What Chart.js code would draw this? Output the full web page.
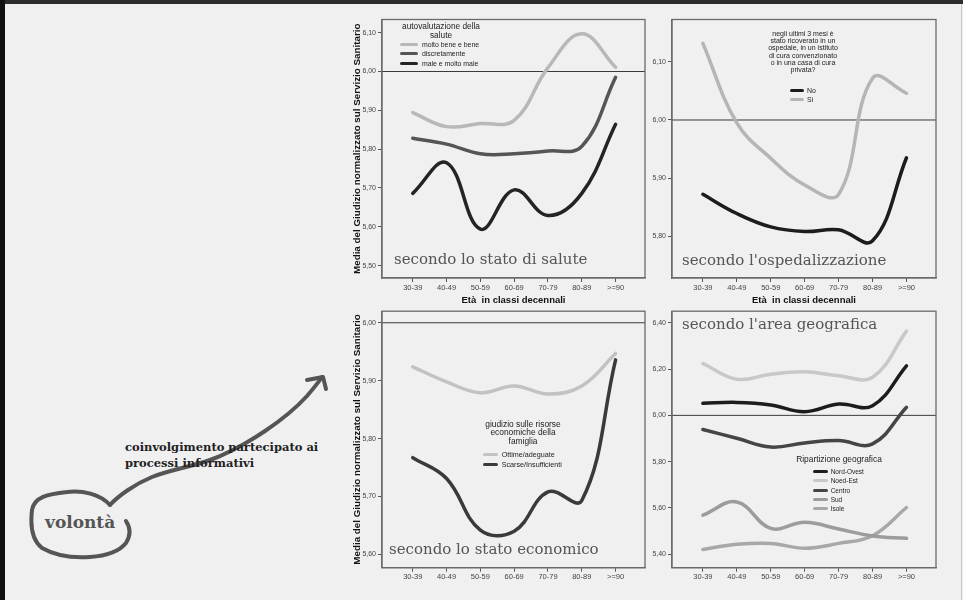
<!DOCTYPE html>
<html>
<head>
<meta charset="utf-8">
<script src="https://cdn.jsdelivr.net/npm/chart.js@4.4.1/dist/chart.umd.min.js"></script>
<style>
  html, body { margin: 0; padding: 0; }
  body { width: 963px; height: 600px; background: #f0f0f0; position: relative; overflow: hidden;
         font-family: "Liberation Sans", Arial, sans-serif; }
  canvas, .abs { position: absolute; }
  .tag { position: absolute; font-family: "DejaVu Serif", serif; font-size: 15px; line-height: 18px;
         color: #555; white-space: nowrap; }
  .legend { position: absolute; color: #222; }
  .legend .ttl { text-align: center; white-space: nowrap; }
  .legend .row { display: flex; align-items: center; white-space: nowrap; }
  .legend .swatch { display: inline-block; height: 3px; border-radius: 2px; }
  .note { position: absolute; font-family: "DejaVu Serif", serif; font-weight: bold; white-space: nowrap; }
</style>
</head>
<body>
<div class="abs" style="left:0;top:0;width:963px;height:4px;background:#2c2c2c"></div>
<div class="abs" style="left:0;top:0;width:5px;height:600px;background:#111"></div>
<div class="abs" style="left:961px;top:4px;width:1px;height:596px;background:#c8c8c8"></div>

<svg class="abs" style="left:0;top:0" width="340" height="600">
  <path d="M110,505 C100,494 82,490 67,492 C48,494 34,497 32,510 C30,527 33,541 42,548 C56,556 75,558 90,557 C105,556 118,553 126,543 C131,535 130,527 126,521"
        fill="none" stroke="#555" stroke-width="4" stroke-linecap="round"/>
  <path d="M110,505 C118,496 135,484 152,477 C170,470 190,467 210,460 C232,452 250,441 265,431 C280,421 296,408 307,396 C313,389 318,383 322,377"
        fill="none" stroke="#555" stroke-width="4" stroke-linecap="round"/>
  <path d="M307,380 L323,377 L326,389" fill="none" stroke="#555" stroke-width="4" stroke-linecap="round" stroke-linejoin="round"/>
</svg>
<div class="note" style="left:125px;top:439px;font-size:11.5px;line-height:16px;color:#222">coinvolgimento partecipato ai<br>processi informativi</div>
<div class="note" style="left:45px;top:512px;font-size:17px;line-height:20px;color:#555">volontà</div>

<canvas id="c1" width="320" height="300" style="left:330px;top:10px"></canvas>
<canvas id="c2" width="310" height="300" style="left:640px;top:10px"></canvas>
<canvas id="c3" width="320" height="295" style="left:330px;top:305px"></canvas>
<canvas id="c4" width="310" height="295" style="left:640px;top:305px"></canvas>

<div class="tag" style="left:394px;top:250px">secondo lo stato di salute</div>
<div class="tag" style="left:682px;top:251px">secondo l'ospedalizzazione</div>
<div class="tag" style="left:389px;top:540px">secondo lo stato economico</div>
<div class="tag" style="left:682px;top:315px">secondo l'area geografica</div>

<script>
// categorie (classi di età)
const ageClasses = ["30-39", "40-49", "50-59", "60-69", "70-79", "80-89", ">=90"];

// autovalutazione della salute
const saluteBuona = [5.894, 5.858, 5.866, 5.874, 6.010, 6.097, 6.011];
const saluteDiscreta = [5.828, 5.813, 5.788, 5.788, 5.795, 5.807, 5.985];
const saluteCattiva = [5.686, 5.765, 5.594, 5.695, 5.629, 5.686, 5.864];

// ricovero negli ultimi 3 mesi
const ricoveroNo = [5.872, 5.839, 5.816, 5.808, 5.811, 5.792, 5.935];
const ricoveroSi = [6.132, 5.995, 5.934, 5.888, 5.872, 6.072, 6.046];

// risorse economiche della famiglia
const risorseBuone = [5.924, 5.898, 5.879, 5.891, 5.877, 5.891, 5.947];
const risorseScarse = [5.767, 5.731, 5.642, 5.640, 5.708, 5.693, 5.936];

// ripartizione geografica
const nordOvest = [6.052, 6.056, 6.045, 6.016, 6.049, 6.042, 6.214];
const nordEst = [6.224, 6.156, 6.178, 6.188, 6.171, 6.165, 6.364];
const centro = [5.939, 5.901, 5.863, 5.881, 5.891, 5.877, 6.035];
const sud = [5.569, 5.626, 5.512, 5.538, 5.509, 5.479, 5.469];
const isole = [5.421, 5.443, 5.447, 5.426, 5.447, 5.480, 5.602];

// tick dell'asse y
const ticksSalute = [5.5, 5.6, 5.7, 5.8, 5.9, 6.0, 6.1];
const ticksRicovero = [5.8, 5.9, 6.0, 6.1];
const ticksRisorse = [5.6, 5.7, 5.8, 5.9, 6.0];
const ticksArea = [5.4, 5.6, 5.8, 6.0, 6.2, 6.4];

const REF = 6.0;
const X_MIN = -0.91, X_MAX = 6.87;
const yTitle = "Media del Giudizio normalizzato sul Servizio Sanitario";
const xTitle = "Età  in classi decennali";

const framePlugin = {
  id: "frame",
  afterDatasetsDraw(chart) {
    const { ctx, chartArea: a } = chart;
    ctx.save();
    ctx.strokeStyle = "#6b6b6b";
    ctx.lineWidth = 1.3;
    ctx.strokeRect(a.left, a.top, a.right - a.left, a.bottom - a.top);
    ctx.restore();
  }
};

function makePanel(p) {
  const datasets = p.series.map((s) => ({
    label: s.label,
    data: s.values.map((v, i) => ({ x: i, y: v })),
    borderColor: s.color,
    borderWidth: 3.5,
    pointRadius: 0,
    tension: 0.4,
    borderCapStyle: "round",
    order: 0
  }));
  datasets.push({
    label: "",
    data: [{ x: X_MIN, y: REF }, { x: X_MAX, y: REF }],
    borderColor: "#3a3a3a",
    borderWidth: 1,
    pointRadius: 0,
    tension: 0,
    order: 1
  });

  const chart = new Chart(document.getElementById(p.id), {
    type: "line",
    data: { datasets },
    options: {
      responsive: false,
      animation: false,
      layout: { padding: { top: p.padTop, right: p.padRight, left: 0, bottom: 0 } },
      plugins: { legend: { display: false }, tooltip: { enabled: false } },
      scales: {
        x: {
          type: "linear",
          min: X_MIN,
          max: X_MAX,
          afterBuildTicks: (s) => { s.ticks = ageClasses.map((_, i) => ({ value: i })); },
          afterFit: (s) => { s.height = p.xH; },
          ticks: {
            callback: (v) => ageClasses[v],
            autoSkip: false, maxRotation: 0, padding: 1,
            color: "#444", font: { family: "Liberation Sans", size: 7.5 }
          },
          grid: { drawOnChartArea: false, drawTicks: true, tickLength: 4, color: "#555" },
          border: { display: true, color: "#6b6b6b", width: 1.3 },
          title: {
            display: p.showX, text: xTitle, color: "#111",
            font: { family: "Liberation Sans", size: 9.5, weight: "bold" },
            padding: { top: 0, bottom: 4.3 }
          }
        },
        y: {
          min: p.yMin,
          max: p.yMax,
          afterBuildTicks: (s) => { s.ticks = p.yTicks.map((v) => ({ value: v })); },
          afterFit: (s) => { s.width = p.yW; },
          ticks: {
            callback: (v) => v.toFixed(2).replace(".", ","),
            padding: 2,
            color: "#444", font: { family: "Liberation Sans", size: 7 }
          },
          grid: { drawOnChartArea: false, drawTicks: true, tickLength: 4, color: "#555" },
          border: { display: true, color: "#6b6b6b", width: 1.3 },
          title: {
            display: p.showY, text: yTitle, color: "#111",
            font: { family: "Liberation Sans", size: 9.8, weight: "bold" },
            padding: { top: 21, bottom: 0 }
          }
        }
      }
    },
    plugins: [framePlugin]
  });
  htmlLegend(chart, p.legend);
  return chart;
}

// legenda html costruita dai dataset del grafico
function htmlLegend(chart, L) {
  const box = document.createElement("div");
  box.className = "legend";
  box.style.left = L.left + "px";
  box.style.top = L.top + "px";
  box.style.width = L.width + "px";
  const ttl = document.createElement("div");
  ttl.className = "ttl";
  ttl.style.fontSize = L.titleSize + "px";
  ttl.style.lineHeight = L.titleLH + "px";
  ttl.innerHTML = L.title.join("<br>");
  box.appendChild(ttl);
  const items = chart.data.datasets.filter((d) => d.label);
  items.forEach((d, i) => {
    const row = document.createElement("div");
    row.className = "row";
    row.style.height = L.rowH + "px";
    row.style.paddingLeft = L.swatchX + "px";
    row.style.fontSize = L.itemSize + "px";
    if (i === 0) row.style.marginTop = L.gap + "px";
    const sw = document.createElement("span");
    sw.className = "swatch";
    sw.style.width = L.swatchW + "px";
    sw.style.background = d.borderColor;
    sw.style.marginRight = L.textGap + "px";
    row.appendChild(sw);
    row.appendChild(document.createTextNode(d.label));
    box.appendChild(row);
  });
  document.body.appendChild(box);
}

makePanel({
  id: "c1", padTop: 9.5, padRight: 5, yW: 52, xH: 32, showX: true, showY: true,
  yMin: 5.468, yMax: 6.134, yTicks: ticksSalute,
  series: [
    { label: "molto bene e bene", values: saluteBuona, color: "#b8b8b8" },
    { label: "discretamente", values: saluteDiscreta, color: "#555555" },
    { label: "male e molto male", values: saluteCattiva, color: "#242424" }
  ],
  legend: { left: 380, top: 21.5, width: 122, title: ["autovalutazione della", "salute"],
            titleSize: 8.3, titleLH: 9, gap: 0, rowH: 9.5, swatchX: 20, swatchW: 18, textGap: 4, itemSize: 6.9 }
});

makePanel({
  id: "c2", padTop: 9.5, padRight: 14, yW: 32, xH: 32, showX: true, showY: false,
  yMin: 5.728, yMax: 6.173, yTicks: ticksRicovero,
  series: [
    { label: "No", values: ricoveroNo, color: "#1c1c1c" },
    { label: "Sì", values: ricoveroSi, color: "#b5b5b5" }
  ],
  legend: { left: 753, top: 29.6, width: 100,
            title: ["negli ultimi 3 mesi è", "stato ricoverato in un", "ospedale, in un istituto",
                    "di cura convenzionato", "o in una casa di cura", "privata?"],
            titleSize: 7, titleLH: 7.35, gap: 12.8, rowH: 9, swatchX: 37, swatchW: 14, textGap: 3, itemSize: 6.9 }
});

makePanel({
  id: "c3", padTop: 5, padRight: 5, yW: 52, xH: 32.3, showX: false, showY: true,
  yMin: 5.577, yMax: 6.02, yTicks: ticksRisorse,
  series: [
    { label: "Ottime/adeguate", values: risorseBuone, color: "#c2c2c2" },
    { label: "Scarse/Insufficienti", values: risorseScarse, color: "#3a3a3a" }
  ],
  legend: { left: 468, top: 419.6, width: 110, title: ["giudizio sulle risorse", "economiche della", "famiglia"],
            titleSize: 8.4, titleLH: 8.8, gap: 3.3, rowH: 10, swatchX: 15, swatchW: 15, textGap: 3.7, itemSize: 7.2 }
});

makePanel({
  id: "c4", padTop: 5, padRight: 14, yW: 32, xH: 32.3, showX: false, showY: false,
  yMin: 5.342, yMax: 6.45, yTicks: ticksArea,
  series: [
    { label: "Nord-Ovest", values: nordOvest, color: "#1c1c1c" },
    { label: "Noed-Est", values: nordEst, color: "#c8c8c8" },
    { label: "Centro", values: centro, color: "#454545" },
    { label: "Sud", values: sud, color: "#9c9c9c" },
    { label: "Isole", values: isole, color: "#a8a8a8" }
  ],
  legend: { left: 789, top: 454.3, width: 100, title: ["Ripartizione geografica"],
            titleSize: 8.4, titleLH: 10, gap: 2.7, rowH: 9.3, swatchX: 23.7, swatchW: 15.6, textGap: 2.4, itemSize: 6.5 }
});
</script>
</body>
</html>
